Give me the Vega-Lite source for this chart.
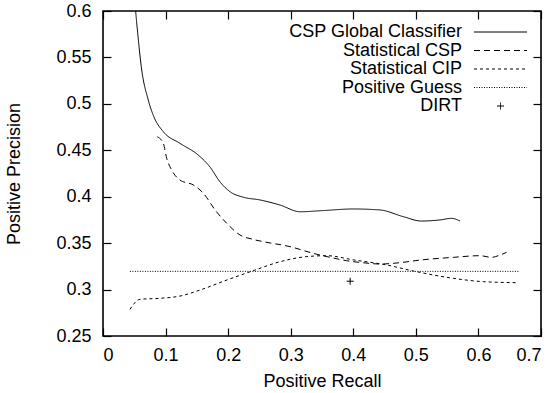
{
  "$schema": "https://vega.github.io/schema/vega-lite/v6.json",
  "width": 438,
  "height": 325,
  "autosize": {"type": "none"},
  "padding": {"left": 103, "top": 11, "right": 17, "bottom": 57},
  "background": "white",
  "config": {
    "font": "Liberation Sans",
    "view": {"stroke": "black", "strokeWidth": 1.6},
    "axis": {
      "domain": false,
      "grid": false,
      "ticks": true,
      "tickColor": "black",
      "tickSize": 8,
      "offset": -8,
      "tickWidth": 1.2,
      "labelFont": "Liberation Sans",
      "labelFontSize": 18,
      "labelColor": "black",
      "titleFont": "Liberation Sans",
      "titleFontSize": 18,
      "titleFontWeight": "normal",
      "titleColor": "black"
    },
    "legend": {
      "labelFont": "Liberation Sans",
      "labelFontSize": 18,
      "labelColor": "black",
      "labelLimit": 400,
      "symbolSize": 49,
      "symbolStrokeColor": "black",
      "symbolStrokeWidth": 1,
      "padding": 0,
      "rowPadding": 0.5
    }
  },
  "datasets": {
    "curves": [
      {"series": "CSP Global Classifier", "recall": 0.0465, "precision": 0.66},
      {"series": "CSP Global Classifier", "recall": 0.0522, "precision": 0.6},
      {"series": "CSP Global Classifier", "recall": 0.0555, "precision": 0.576},
      {"series": "CSP Global Classifier", "recall": 0.0612, "precision": 0.54},
      {"series": "CSP Global Classifier", "recall": 0.0724, "precision": 0.504},
      {"series": "CSP Global Classifier", "recall": 0.0814, "precision": 0.486},
      {"series": "CSP Global Classifier", "recall": 0.0964, "precision": 0.47},
      {"series": "CSP Global Classifier", "recall": 0.123, "precision": 0.4575},
      {"series": "CSP Global Classifier", "recall": 0.152, "precision": 0.445},
      {"series": "CSP Global Classifier", "recall": 0.171, "precision": 0.432},
      {"series": "CSP Global Classifier", "recall": 0.187, "precision": 0.416},
      {"series": "CSP Global Classifier", "recall": 0.203, "precision": 0.4054},
      {"series": "CSP Global Classifier", "recall": 0.224, "precision": 0.3995},
      {"series": "CSP Global Classifier", "recall": 0.251, "precision": 0.3965},
      {"series": "CSP Global Classifier", "recall": 0.283, "precision": 0.391},
      {"series": "CSP Global Classifier", "recall": 0.315, "precision": 0.3838},
      {"series": "CSP Global Classifier", "recall": 0.35, "precision": 0.385},
      {"series": "CSP Global Classifier", "recall": 0.4, "precision": 0.3868},
      {"series": "CSP Global Classifier", "recall": 0.443, "precision": 0.3857},
      {"series": "CSP Global Classifier", "recall": 0.48, "precision": 0.3785},
      {"series": "CSP Global Classifier", "recall": 0.509, "precision": 0.3738},
      {"series": "CSP Global Classifier", "recall": 0.5386, "precision": 0.375},
      {"series": "CSP Global Classifier", "recall": 0.557, "precision": 0.3767},
      {"series": "CSP Global Classifier", "recall": 0.5706, "precision": 0.3738},
      {"series": "Statistical CSP", "recall": 0.0868, "precision": 0.4646},
      {"series": "Statistical CSP", "recall": 0.0964, "precision": 0.4575},
      {"series": "Statistical CSP", "recall": 0.1018, "precision": 0.4414},
      {"series": "Statistical CSP", "recall": 0.1097, "precision": 0.4288},
      {"series": "Statistical CSP", "recall": 0.123, "precision": 0.418},
      {"series": "Statistical CSP", "recall": 0.1444, "precision": 0.4126},
      {"series": "Statistical CSP", "recall": 0.16, "precision": 0.404},
      {"series": "Statistical CSP", "recall": 0.18, "precision": 0.385},
      {"series": "Statistical CSP", "recall": 0.1977, "precision": 0.3714},
      {"series": "Statistical CSP", "recall": 0.219, "precision": 0.3588},
      {"series": "Statistical CSP", "recall": 0.24, "precision": 0.354},
      {"series": "Statistical CSP", "recall": 0.256, "precision": 0.3516},
      {"series": "Statistical CSP", "recall": 0.299, "precision": 0.3462},
      {"series": "Statistical CSP", "recall": 0.336, "precision": 0.339},
      {"series": "Statistical CSP", "recall": 0.363, "precision": 0.3347},
      {"series": "Statistical CSP", "recall": 0.389, "precision": 0.3311},
      {"series": "Statistical CSP", "recall": 0.416, "precision": 0.3289},
      {"series": "Statistical CSP", "recall": 0.443, "precision": 0.3275},
      {"series": "Statistical CSP", "recall": 0.475, "precision": 0.329},
      {"series": "Statistical CSP", "recall": 0.507, "precision": 0.3318},
      {"series": "Statistical CSP", "recall": 0.56, "precision": 0.3347},
      {"series": "Statistical CSP", "recall": 0.6025, "precision": 0.3365},
      {"series": "Statistical CSP", "recall": 0.621, "precision": 0.3347},
      {"series": "Statistical CSP", "recall": 0.6345, "precision": 0.3372},
      {"series": "Statistical CSP", "recall": 0.645, "precision": 0.3401},
      {"series": "Statistical CIP", "recall": 0.043, "precision": 0.2787},
      {"series": "Statistical CIP", "recall": 0.059, "precision": 0.2895},
      {"series": "Statistical CIP", "recall": 0.091, "precision": 0.2906},
      {"series": "Statistical CIP", "recall": 0.123, "precision": 0.293},
      {"series": "Statistical CIP", "recall": 0.155, "precision": 0.2995},
      {"series": "Statistical CIP", "recall": 0.198, "precision": 0.3103},
      {"series": "Statistical CIP", "recall": 0.24, "precision": 0.3203},
      {"series": "Statistical CIP", "recall": 0.283, "precision": 0.33},
      {"series": "Statistical CIP", "recall": 0.3256, "precision": 0.3355},
      {"series": "Statistical CIP", "recall": 0.3575, "precision": 0.3365},
      {"series": "Statistical CIP", "recall": 0.4, "precision": 0.332},
      {"series": "Statistical CIP", "recall": 0.453, "precision": 0.3265},
      {"series": "Statistical CIP", "recall": 0.496, "precision": 0.32},
      {"series": "Statistical CIP", "recall": 0.56, "precision": 0.3121},
      {"series": "Statistical CIP", "recall": 0.608, "precision": 0.3085},
      {"series": "Statistical CIP", "recall": 0.664, "precision": 0.3074},
      {"series": "Positive Guess", "recall": 0.043, "precision": 0.3196},
      {"series": "Positive Guess", "recall": 0.665, "precision": 0.3196}
    ],
    "dirt": [
      {"series": "DIRT", "recall": 0.395, "precision": 0.309}
    ]
  },
  "layer": [
    {
      "data": {"name": "curves"},
      "mark": {"type": "line", "interpolate": "monotone", "clip": true, "color": "black", "strokeWidth": 1},
      "encoding": {
        "x": {
          "field": "recall", "type": "quantitative",
          "scale": {"domain": [0, 0.7], "nice": false, "zero": false},
          "axis": {"orient": "bottom", "values": [0, 0.1, 0.2, 0.3, 0.4, 0.5, 0.6, 0.7], "format": "~g", "labelPadding": 10, "title": "Positive Recall", "titlePadding": 8}
        },
        "y": {
          "field": "precision", "type": "quantitative",
          "scale": {"domain": [0.25, 0.6], "nice": false, "zero": false},
          "axis": {"orient": "left", "values": [0.25, 0.3, 0.35, 0.4, 0.45, 0.5, 0.55, 0.6], "format": "~g", "labelPadding": 12, "title": "Positive Precision", "titlePadding": 32}
        },
        "strokeDash": {
          "field": "series", "type": "nominal",
          "scale": {
            "domain": ["CSP Global Classifier", "Statistical CSP", "Statistical CIP", "Positive Guess", "DIRT"],
            "range": [[1, 0], [6, 4], [3, 3], [1, 1.5], [1, 0]]
          },
          "legend": {
            "title": null, "orient": "top-right", "offset": 12,
            "encode": {
              "symbols": {"update": {"x": {"value": 38.5}}},
              "labels": {"update": {"x": {"value": 0}, "align": {"value": "right"}}}
            }
          }
        }
      }
    },
    {
      "data": {"name": "dirt"},
      "mark": {"type": "point", "filled": false, "stroke": "black", "strokeWidth": 1, "size": 49, "opacity": 1},
      "encoding": {
        "x": {
          "field": "recall", "type": "quantitative",
          "scale": {"domain": [0, 0.7], "nice": false, "zero": false},
          "axis": {"orient": "top", "values": [0, 0.1, 0.2, 0.3, 0.4, 0.5, 0.6, 0.7], "labels": false, "title": null}
        },
        "y": {
          "field": "precision", "type": "quantitative",
          "scale": {"domain": [0.25, 0.6], "nice": false, "zero": false},
          "axis": {"orient": "right", "values": [0.25, 0.3, 0.35, 0.4, 0.45, 0.5, 0.55, 0.6], "labels": false, "title": null}
        },
        "shape": {
          "field": "series", "type": "nominal",
          "scale": {
            "domain": ["CSP Global Classifier", "Statistical CSP", "Statistical CIP", "Positive Guess", "DIRT"],
            "range": ["M-7.57,0H7.57", "M-7.57,0H7.57", "M-7.57,0H7.57", "M-7.57,0H7.57", "M-1,0H1M0,-1V1"]
          },
          "legend": {
            "title": null, "orient": "top-right", "offset": 12,
            "encode": {
              "symbols": {"update": {"x": {"value": 38.5}}},
              "labels": {"update": {"x": {"value": 0}, "align": {"value": "right"}}}
            }
          }
        }
      }
    }
  ],
  "resolve": {"scale": {"x": "independent", "y": "independent"}}
}
